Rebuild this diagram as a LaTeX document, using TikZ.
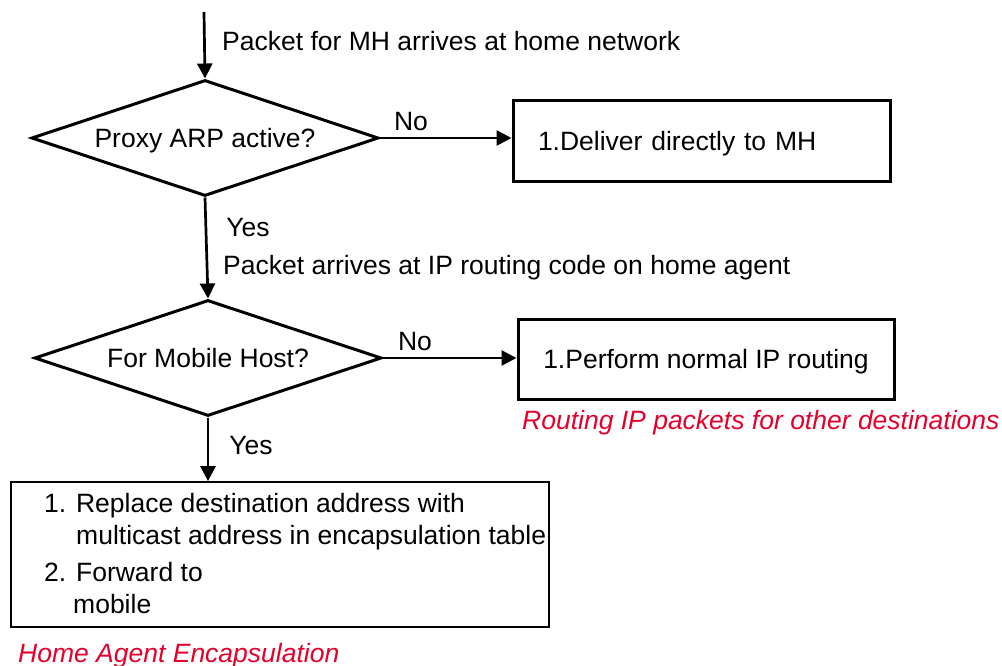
\documentclass[tikz,border=0pt]{standalone}
\usepackage{fontspec}
\setmainfont{Liberation Sans}
\usepackage{xcolor}
\usetikzlibrary{shapes.geometric,arrows.meta,calc}
\definecolor{notered}{RGB}{228,0,43}

\begin{document}
\begin{tikzpicture}[x=1pt,y=-1pt,
    every node/.style={font=\fontsize{26.5}{32}\selectfont},
    decision/.style={diamond,draw,line width=3pt,aspect=2.99,minimum width=347pt,
      minimum height=116pt,inner sep=0pt,text depth=0pt},
    action/.style={draw,line width=3pt,minimum width=377pt,
      minimum height=81pt,inner sep=0pt,text depth=0pt},
    flow/.style={line width=2.7pt,-{Triangle[length=15pt,width=15pt]}},
    note/.style={inner sep=0pt},
    remark/.style={inner sep=0pt,anchor=base west,text=notered,
      font=\fontsize{26.5}{32}\selectfont\itshape}]
  \useasboundingbox (0,0) rectangle (1002,666);

  % first test
  \coordinate (start) at (204,12);
  \node[note,anchor=base west] (arrival) at (222,50.5)
    {Packet for MH arrives at home network};
  \node[decision] (proxy) at (205,138) {Proxy ARP active?};
  \node[action,text width=327pt,align=left] (deliver) at (701.5,141)
    {1.Deliver directly to MH};
  \draw[flow] (start) -- (proxy.north);
  \draw[flow] (proxy.east) -- (proxy.east -| deliver.west);
  \node[note,anchor=base] (no1) at (411,130.5) {No};

  % second test
  \node[decision] (mobile) at (208,358) {For Mobile Host?};
  \node[action,minimum width=376pt,minimum height=80pt] (routing) at (706,359)
    {1.Perform normal IP routing};
  \draw[flow] (proxy.south) -- (mobile.north);
  \node[note,anchor=base] (yes1) at (248,236.5) {Yes};
  \node[note,anchor=base west] (ipcode) at (223,274.5)
    {Packet arrives at IP routing code on home agent};
  \draw[flow] (mobile.east) -- (mobile.east -| routing.west);
  \node[note,anchor=base] (no2) at (415,350.5) {No};
  \node[remark] (othernote) at (522,429.5)
    {Routing IP packets for other destinations};

  % encapsulation
  \node[draw,line width=1.7pt,minimum width=538pt,minimum height=145pt,
    inner sep=0pt] (encap) at (280,554.5) {};
  \node[note,anchor=north west,align=left] (steps) at (44,493)
    {1. Replace destination address with\\
     \hspace*{32pt}multicast address in encapsulation table\\[5pt]
     2. Forward to\\
     \hspace*{29pt}mobile};
  \draw[flow] (mobile.south) -- (mobile.south |- encap.north);
  \node[note,anchor=base] (yes2) at (251,454.5) {Yes};
  \node[remark] (encapnote) at (18,662) {Home Agent Encapsulation};
\end{tikzpicture}
\end{document}
